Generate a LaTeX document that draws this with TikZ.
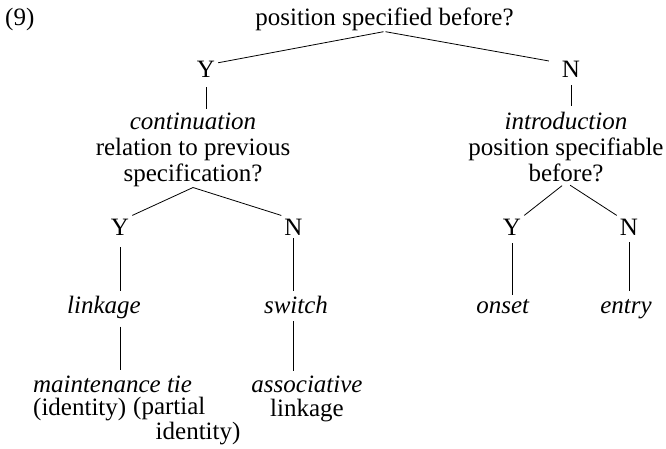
\documentclass[tikz,border=0pt]{standalone}
\usepackage{fontspec}
\setmainfont{Liberation Serif}

\begin{document}
\begin{tikzpicture}[x=1pt,y=-1pt,
	every node/.style={inner sep=0pt,font=\fontsize{25}{26}\selectfont},
	answer/.style={inner sep=3pt},
	lower/.style={font=\fontsize{25}{24.5}\selectfont},
	branch/.style={line width=0.8pt}]
	\useasboundingbox (0,0) rectangle (666,449);
	\node[anchor=base west] (num) at (5,26) {(9)};
	\node[anchor=base] (root) at (384.5,26) {position specified before?};
	\node[answer,anchor=base] (Ya) at (206,78) {Y};
	\node[answer,anchor=base] (Na) at (571,78) {N};
	\node[anchor=base,align=center] (cont) at (193,182) {\textit{continuation}\\relation to previous\\specification?};
	\node[anchor=base,align=center] (intro) at (566,182) {\textit{introduction}\\position specifiable\\before?};
	\node[answer,anchor=base] (Yb) at (120,235) {Y};
	\node[answer,anchor=base] (Nb) at (293.5,235) {N};
	\node[answer,anchor=base] (Yc) at (512,235) {Y};
	\node[answer,anchor=base] (Nc) at (629,235) {N};
	\node[anchor=base] (link) at (104,313) {\textit{linkage}};
	\node[anchor=base] (switch) at (296,313) {\textit{switch}};
	\node[anchor=base] (onset) at (503,313) {\textit{onset}};
	\node[anchor=base] (entry) at (626,313) {\textit{entry}};
	\node[anchor=base] (maint) at (112.5,392) {\textit{maintenance tie}};
	\node[anchor=base west] (ident) at (33,415) {(identity)};
	\node[lower,anchor=base west,align=left] (partial) at (133,439) {(partial\\\hspace*{0.9em}identity)};
	\node[lower,anchor=base,align=center] (assoc) at (307,416.5) {\textit{associative}\\linkage};

	\draw[branch,shorten <=1pt] (root.south) -- (Ya.30);
	\draw[branch,shorten <=1pt,shorten >=10pt] (root.south) -- (Na.150);
	\draw[branch,shorten <=6pt,shorten >=4pt] (Ya.south) -- (Ya.south |- cont.north);
	\draw[branch,shorten <=4pt,shorten >=6pt] (Na.south) -- (Na.south |- intro.north);

	\draw[branch] (cont.south) -- (Yb.north east);
	\draw[branch] (cont.south) -- (Nb.north west);
	\draw[branch,shorten <=5pt] (intro.south) -- (Yc.north east);
	\draw[branch,shorten <=5pt] (intro.south) -- (Nc.north west);

	\draw[branch,shorten <=9pt,shorten >=4pt] (Yb.south) -- (Yb.south |- link.north);
	\draw[branch,shorten <=0pt,shorten >=4pt] (Nb.south) -- (Nb.south |- switch.north);
	\draw[branch,shorten <=5pt,shorten >=4pt] (Yc.south) -- (Yc.south |- onset.north);
	\draw[branch,shorten <=4pt,shorten >=8pt] (Nc.south) -- (Nc.south |- entry.north);

	\draw[branch,shorten <=8pt,shorten >=5pt] (Yb |- link.south) -- (Yb |- maint.north);
	\draw[branch,shorten <=8pt,shorten >=4pt] (Nb |- switch.south) -- (Nb |- assoc.north);
\end{tikzpicture}
\end{document}
